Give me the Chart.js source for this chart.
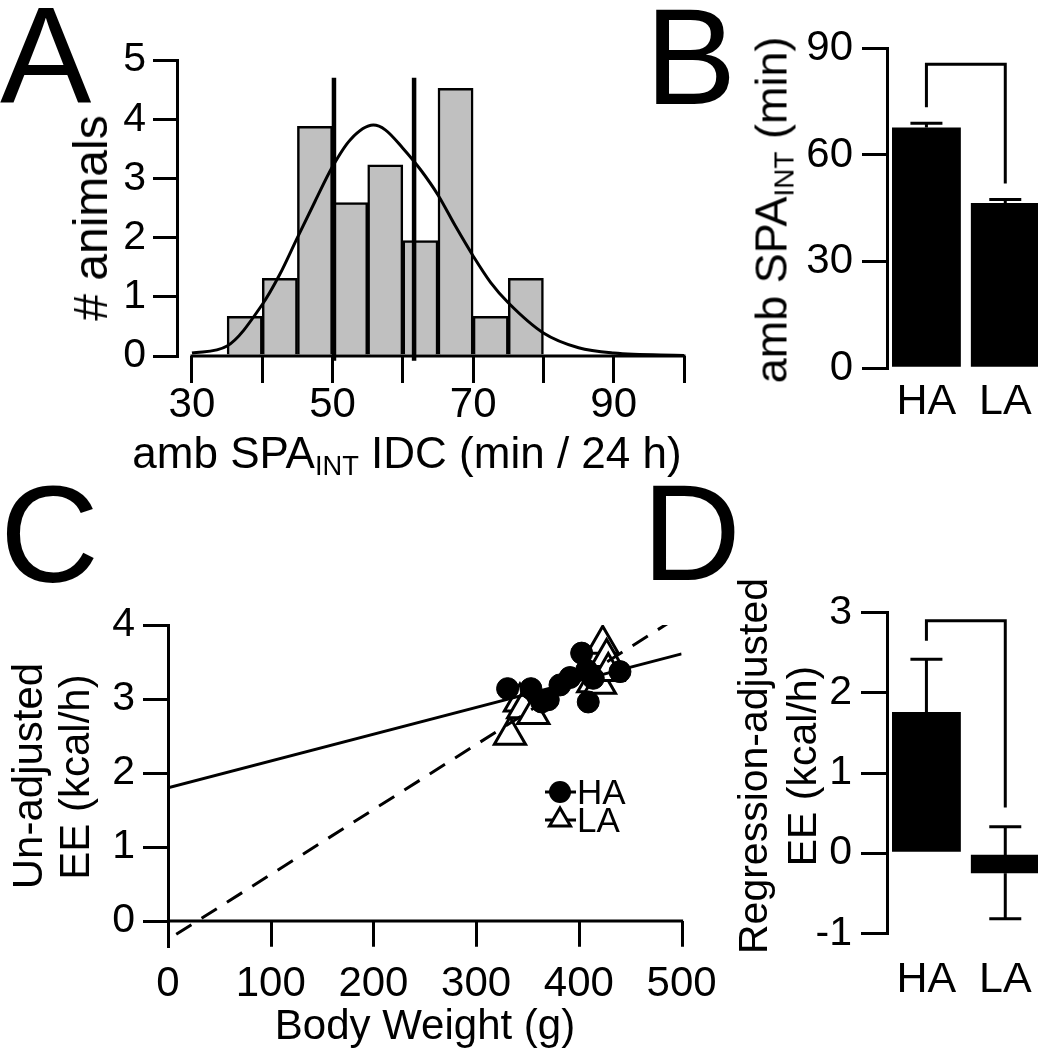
<!DOCTYPE html>
<html>
<head>
<meta charset="utf-8">
<script src="https://cdn.jsdelivr.net/npm/chart.js@4.4.1/dist/chart.umd.min.js"></script>
<style>
  html, body { margin: 0; padding: 0; width: 1038px; height: 1050px; overflow: hidden; background: #fff; }
  canvas { position: absolute; }
  .t { position: absolute; font-family: 'Liberation Sans', Arial, Helvetica, sans-serif; color: #000;
       line-height: 1; white-space: nowrap; transform: translate(-50%, -50%); }
  .r { transform: translate(-50%, -50%) rotate(-90deg); }
  .big { position: absolute; font-family: 'Liberation Sans', Arial, Helvetica, sans-serif; font-size: 137px; line-height: 1; color: #000; }
  sub { font-size: 0.62em; vertical-align: -0.25em; line-height: 0; }
</style>
</head>
<body>
<canvas id="chartA" width="700" height="440" style="left:0;top:0"></canvas>
<canvas id="chartB" width="310" height="440" style="left:740px;top:0"></canvas>
<canvas id="chartC" width="740" height="460" style="left:0;top:590px"></canvas>
<canvas id="chartD" width="310" height="480" style="left:740px;top:570px"></canvas>

<div class="big" style="left:0;top:-13px">A</div>
<div class="big" style="left:645px;top:-12px">B</div>
<div class="big" style="left:0;top:466px">C</div>
<div class="big" style="left:642px;top:464px">D</div>

<div class="t r" style="left:91px;top:218px;font-size:48px"># animals</div>
<div class="t" style="left:407px;top:453px;font-size:44px">amb SPA<sub>INT</sub> IDC (min / 24 h)</div>
<div class="t r" style="left:771px;top:210px;font-size:45px">amb SPA<sub>INT</sub> (min)</div>
<div class="t r" style="left:28px;top:776px;font-size:42px">Un-adjusted</div>
<div class="t r" style="left:75px;top:777px;font-size:42px">EE (kcal/h)</div>
<div class="t" style="left:425px;top:1025px;font-size:42px">Body Weight (g)</div>
<div class="t r" style="left:753px;top:766px;font-size:41px">Regression-adjusted</div>
<div class="t r" style="left:802px;top:766px;font-size:41px">EE (kcal/h)</div>

<script>
const FONT = "'Liberation Sans', Arial, Helvetica, sans-serif";

// Panel A: histogram of amb SPA_INT IDC
const binCentersA = [37.5, 42.5, 47.5, 52.5, 57.5, 62.5, 67.5, 72.5, 77.5];
const countsA = [0.67, 1.31, 3.88, 2.59, 3.23, 1.95, 4.52, 0.67, 1.31];
const curveXA = [30, 35, 40, 42.5, 45, 47.5, 50, 52.5, 55.8, 57.5, 60, 62.5, 65, 67.5, 70, 72.5, 75, 80, 85, 90, 100];
const curveYA = [0.05, 0.17, 0.87, 1.38, 2.0, 2.61, 3.2, 3.65, 3.9, 3.82, 3.51, 3.15, 2.72, 2.19, 1.69, 1.24, 0.9, 0.39, 0.14, 0.05, 0.01];
const cutLinesA = [50.2, 61.6];
const cutSpanA = [-0.08, 4.7];
const xTicksA = [30, 40, 50, 60, 70, 80, 90, 100];
const xLabelsA = ['30', '', '50', '', '70', '', '90', ''];

// Panel B: amb SPA_INT by group
const groups = ['HA', 'LA'];
const meansB = [67.7, 46.5];
const errB = [1.2, 1.0];
const bracketB = [85.5, 73.4, 52]; // top, left foot, right foot

// Panel C: EE vs body weight
const haWeight = [330.6, 353.3, 363.7, 370.2, 381.6, 391.3, 402.7, 407.6, 409.1, 414, 440];
const haEE = [3.14, 3.14, 2.96, 2.99, 3.19, 3.29, 3.62, 3.39, 2.96, 3.28, 3.37];
const laWeight = [332.9, 342.6, 345.8, 355.6, 414, 420.5, 423.2, 427, 428.6];
const laEE = [2.51, 2.96, 2.87, 2.79, 3.22, 3.2, 3.74, 3.56, 3.37];
const haFitX = [0, 500];
const haFitY = [1.8, 3.61];
const laFitX = [8, 500];
const laFitY = [-0.18, 4.14];
const yTicksC = [0, 1, 2, 3, 4];

// Panel D: regression-adjusted EE
const meansD = [1.76, -0.25];
const errUpD = [0.66, 0.58];
const errDownD = [0, 0.57];
const bracketD = [2.9, 2.65, 0.57];

Chart.defaults.font.family = FONT;
Chart.defaults.color = '#000';
Chart.defaults.animation = false;
Chart.defaults.plugins.legend.display = false;
Chart.defaults.plugins.tooltip.enabled = false;

const tickGrid = (len) => ({ display: true, drawOnChartArea: false, drawTicks: true, tickLength: len, color: '#000', lineWidth: 3 });
const blackBorder = { display: true, color: '#000', width: 3 };

// error bars and significance bracket for B and D
const barDecor = {
  id: 'barDecor',
  afterDatasetsDraw(chart, args, opts) {
    const ctx = chart.ctx;
    const y = chart.scales.y;
    const bars = chart.getDatasetMeta(0).data;
    const vals = chart.data.datasets[0].data;
    ctx.save();
    ctx.strokeStyle = '#000';
    ctx.lineWidth = 3;
    bars.forEach((bar, i) => {
      const v = vals[i];
      const ends = [];
      if (opts.up[i] > 0) ends.push(v + opts.up[i]);
      if (opts.down[i] > 0) ends.push(v - opts.down[i]);
      ends.forEach((e) => {
        ctx.beginPath();
        ctx.moveTo(bar.x, y.getPixelForValue(v));
        ctx.lineTo(bar.x, y.getPixelForValue(e));
        ctx.moveTo(bar.x - 16, y.getPixelForValue(e));
        ctx.lineTo(bar.x + 16, y.getPixelForValue(e));
        ctx.stroke();
      });
    });
    const b = opts.bracket;
    ctx.beginPath();
    ctx.moveTo(bars[0].x, y.getPixelForValue(b[1]));
    ctx.lineTo(bars[0].x, y.getPixelForValue(b[0]));
    ctx.lineTo(bars[1].x, y.getPixelForValue(b[0]));
    ctx.lineTo(bars[1].x, y.getPixelForValue(b[2]));
    ctx.stroke();
    ctx.restore();
  }
};

// A: x axis line only spans 30..100
const axisLineA = {
  id: 'axisLineA',
  afterDraw(chart) {
    const { ctx, scales: { x, y } } = chart;
    ctx.save();
    ctx.strokeStyle = '#000';
    ctx.lineWidth = 3;
    ctx.beginPath();
    ctx.moveTo(x.getPixelForValue(xTicksA[0]) - 1.5, y.getPixelForValue(0));
    ctx.lineTo(x.getPixelForValue(xTicksA[xTicksA.length - 1]) + 1.5, y.getPixelForValue(0));
    ctx.stroke();
    ctx.restore();
  }
};

// C: x axis sits at y = 0, ticks hang down to the bottom of the plot
const axisLineC = {
  id: 'axisLineC',
  afterDraw(chart) {
    const { ctx, chartArea, scales: { x, y } } = chart;
    const y0 = y.getPixelForValue(0);
    ctx.save();
    ctx.strokeStyle = '#000';
    ctx.lineWidth = 3;
    ctx.beginPath();
    ctx.moveTo(chartArea.left, y0);
    ctx.lineTo(chartArea.right + 1.5, y0);
    x.ticks.forEach((t) => {
      const px = Math.round(x.getPixelForValue(t.value)) + 0.5;
      ctx.moveTo(px, y0);
      ctx.lineTo(px, chartArea.bottom);
    });
    ctx.stroke();

    // legend
    ctx.lineWidth = 3;
    ctx.font = '35px ' + FONT;
    ctx.textBaseline = 'middle';
    ctx.fillStyle = '#000';
    [[202, 'HA'], [230, 'LA']].forEach(([ly, txt], i) => {
      ctx.beginPath();
      ctx.moveTo(545, ly);
      ctx.lineTo(576, ly);
      ctx.stroke();
      ctx.beginPath();
      if (i === 0) {
        ctx.arc(560, ly, 11, 0, Math.PI * 2);
        ctx.fill();
      } else {
        ctx.moveTo(560, ly - 12);
        ctx.lineTo(570.5, ly + 6);
        ctx.lineTo(549.5, ly + 6);
        ctx.closePath();
        ctx.fillStyle = '#fff';
        ctx.fill();
        ctx.stroke();
        ctx.fillStyle = '#000';
      }
      ctx.fillText(txt, 577, ly + 2);
    });
    ctx.restore();
  }
};

new Chart(document.getElementById('chartA'), {
  type: 'bar',
  data: {
    datasets: [
      {
        type: 'line',
        data: curveXA.map((x, i) => ({ x, y: curveYA[i] })),
        borderColor: '#000', borderWidth: 3, pointRadius: 0,
        cubicInterpolationMode: 'monotone', order: 1,
      },
      ...cutLinesA.map((v) => ({
        type: 'line',
        data: cutSpanA.map((s) => ({ x: v, y: s })),
        borderColor: '#000', borderWidth: 4.5, pointRadius: 0, clip: false, order: 1,
      })),
      {
        data: binCentersA.map((x, i) => ({ x, y: countsA[i] })),
        backgroundColor: '#c0c0c0', borderColor: '#000', borderWidth: 2.5,
        barPercentage: 1, categoryPercentage: 1, order: 2,
      },
    ],
  },
  options: {
    responsive: false,
    layout: { padding: { top: 60, right: 16, left: 0, bottom: 0 } },
    scales: {
      x: {
        type: 'linear', min: 27.87, max: 100, offset: false,
        afterBuildTicks: (s) => { s.ticks = xTicksA.map((v) => ({ value: v })); },
        afterFit: (s) => { s.height = 84; },
        grid: { ...tickGrid(27), offset: false },
        border: { display: false },
        ticks: {
          autoSkip: false, maxRotation: 0, padding: 1,
          font: { size: 42, lineHeight: 1 },
          callback: (v) => xLabelsA[xTicksA.indexOf(v)] || '',
        },
      },
      y: {
        min: 0, max: 5,
        afterFit: (s) => { s.width = 177; },
        grid: tickGrid(24),
        border: blackBorder,
        ticks: { stepSize: 1, padding: 7, font: { size: 41, lineHeight: 1 } },
      },
    },
  },
  plugins: [axisLineA],
});

new Chart(document.getElementById('chartB'), {
  type: 'bar',
  data: {
    labels: groups,
    datasets: [{ data: meansB, backgroundColor: '#000', barPercentage: 0.873, categoryPercentage: 1 }],
  },
  options: {
    responsive: false,
    layout: { padding: { top: 48.3, right: 5.3, left: 0, bottom: 0 } },
    plugins: { barDecor: { up: errB, down: [0, 0], bracket: bracketB } },
    scales: {
      x: {
        offset: true,
        afterFit: (s) => { s.height = 71.7; },
        grid: { display: false },
        border: { display: false },
        ticks: { padding: 4, font: { size: 43, lineHeight: 1 } },
      },
      y: {
        min: 0, max: 90,
        afterFit: (s) => { s.width = 147; },
        grid: tickGrid(25),
        border: blackBorder,
        ticks: { stepSize: 30, padding: 9, font: { size: 42, lineHeight: 1 } },
      },
    },
  },
  plugins: [barDecor],
});

new Chart(document.getElementById('chartC'), {
  type: 'scatter',
  data: {
    datasets: [
      {
        type: 'line',
        data: haFitX.map((x, i) => ({ x, y: haFitY[i] })),
        borderColor: '#000', borderWidth: 3, pointRadius: 0,
      },
      {
        type: 'line',
        data: laFitX.map((x, i) => ({ x, y: laFitY[i] })),
        borderColor: '#000', borderWidth: 3, borderDash: [18, 12], pointRadius: 0,
      },
      {
        label: 'HA',
        data: haWeight.map((x, i) => ({ x, y: haEE[i] })),
        pointStyle: 'circle', pointRadius: 11,
        backgroundColor: '#000', borderColor: '#000', borderWidth: 1,
      },
      {
        label: 'LA',
        data: laWeight.map((x, i) => ({ x, y: laEE[i] })),
        pointStyle: 'triangle', pointRadius: 18,
        backgroundColor: '#fff', borderColor: '#000', borderWidth: 3,
      },
    ],
  },
  options: {
    responsive: false,
    layout: { padding: { top: 35, right: 58.4, left: 0, bottom: 0 } },
    scales: {
      x: {
        type: 'linear', min: 0, max: 500,
        afterFit: (s) => { s.height = 103.3; },
        grid: { display: false },
        border: { display: false },
        ticks: { stepSize: 100, padding: 9, maxRotation: 0, font: { size: 42, lineHeight: 1 } },
      },
      y: {
        min: -0.347, max: 4,
        afterBuildTicks: (s) => { s.ticks = yTicksC.map((v) => ({ value: v })); },
        afterFit: (s) => { s.width = 168; },
        grid: tickGrid(25),
        border: blackBorder,
        ticks: { padding: 8, font: { size: 41, lineHeight: 1 } },
      },
    },
  },
  plugins: [axisLineC],
});

new Chart(document.getElementById('chartD'), {
  type: 'bar',
  data: {
    labels: groups,
    datasets: [{ data: meansD, backgroundColor: '#000', barPercentage: 0.873, categoryPercentage: 1 }],
  },
  options: {
    responsive: false,
    layout: { padding: { top: 42.7, right: 5.3, left: 0, bottom: 0 } },
    plugins: { barDecor: { up: errUpD, down: errDownD, bracket: bracketD } },
    scales: {
      x: {
        offset: true,
        afterFit: (s) => { s.height = 116.7; },
        grid: { display: false },
        border: { display: false },
        ticks: { padding: 17, font: { size: 43, lineHeight: 1 } },
      },
      y: {
        min: -1, max: 3,
        afterFit: (s) => { s.width = 147; },
        grid: tickGrid(26),
        border: blackBorder,
        ticks: { stepSize: 1, padding: 9, font: { size: 41, lineHeight: 1 } },
      },
    },
  },
  plugins: [barDecor],
});
</script>
</body>
</html>
